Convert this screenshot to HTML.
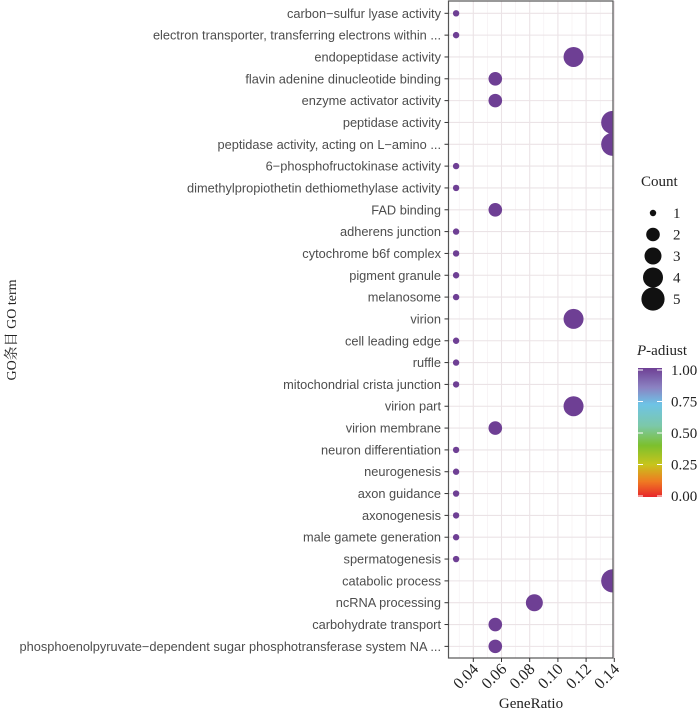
<!DOCTYPE html>
<html><head><meta charset="utf-8"><style>
html,body{margin:0;padding:0;background:#fff;}
svg{display:block;}
</style></head><body>
<svg id="chart" width="700" height="711" xmlns="http://www.w3.org/2000/svg"></svg>
<script>
const terms = ["carbon−sulfur lyase activity","electron transporter, transferring electrons within ...","endopeptidase activity","flavin adenine dinucleotide binding","enzyme activator activity","peptidase activity","peptidase activity, acting on L−amino ...","6−phosphofructokinase activity","dimethylpropiothetin dethiomethylase activity","FAD binding","adherens junction","cytochrome b6f complex","pigment granule","melanosome","virion","cell leading edge","ruffle","mitochondrial crista junction","virion part","virion membrane","neuron differentiation","neurogenesis","axon guidance","axonogenesis","male gamete generation","spermatogenesis","catabolic process","ncRNA processing","carbohydrate transport","phosphoenolpyruvate−dependent sugar phosphotransferase system NA ..."];
const counts = [1,1,4,2,2,5,5,1,1,2,1,1,1,1,4,1,1,1,4,2,1,1,1,1,1,1,5,3,2,2];
const geneRatio = [0.0278,0.0278,0.1111,0.0556,0.0556,0.1389,0.1389,0.0278,0.0278,0.0556,0.0278,0.0278,0.0278,0.0278,0.1111,0.0278,0.0278,0.0278,0.1111,0.0556,0.0278,0.0278,0.0278,0.0278,0.0278,0.0278,0.1389,0.0833,0.0556,0.0556];
const xTicks = [0.04,0.06,0.08,0.10,0.12,0.14];
const xTickLabels = ["0.04","0.06","0.08","0.10","0.12","0.14"];
const sizeLevels = [1,2,3,4,5];
const colorTicks = ["1.00","0.75","0.50","0.25","0.00"];

const NS="http://www.w3.org/2000/svg";
const svg=document.getElementById('chart');
function el(tag,attrs,parent){const e=document.createElementNS(NS,tag);for(const k in attrs)e.setAttribute(k,attrs[k]);(parent||svg).appendChild(e);return e;}
const L=448.5,R=613,T=1,B=658;
const xs=v=>473.3+(v-0.04)*1410;
const ys=i=>13.3+i*21.83;
const rs=c=>[0,3.2,6.8,8.5,10,11.6][c];

const defs=el('defs',{});
const cp=el('clipPath',{id:'pc'},defs);
el('rect',{x:L,y:T,width:R-L,height:B-T},cp);

const panel=el('rect',{x:L,y:T,width:R-L,height:B-T,fill:'#fff'});

for(let v=0.03;v<0.145;v+=0.02){const x=xs(v);if(x>L&&x<R)el('line',{x1:x,x2:x,y1:T,y2:B,stroke:'#f3eef0','stroke-width':0.6});}
for(const v of xTicks){const x=xs(v);const g=el('line',{x1:x,x2:x,y1:T,y2:B,stroke:'#ebe3e6','stroke-width':1.1});}
terms.forEach((t,i)=>{el('line',{x1:L,x2:R,y1:ys(i),y2:ys(i),stroke:'#ebe3e6','stroke-width':1.1});});
const pts=el('g',{'clip-path':'url(#pc)'});
terms.forEach((t,i)=>{
  const c=el('circle',{cx:xs(geneRatio[i]),cy:ys(i),r:rs(counts[i]),fill:'#6e3f94'},pts);
  
  
});
const border=el('rect',{x:L,y:T,width:R-L,height:B-T,fill:'none',stroke:'#555','stroke-width':1.2});

terms.forEach((t,i)=>{
  el('line',{x1:L-4,x2:L,y1:ys(i),y2:ys(i),stroke:'#333','stroke-width':1});
  const tx=el('text',{x:441,y:ys(i)+4.5,'text-anchor':'end','font-family':'Liberation Sans, sans-serif','font-size':'12.8',fill:'#4d4d4d'});
  tx.textContent=t;
  
  
});
xTicks.forEach((v,i)=>{
  const x=xs(v);
  el('line',{x1:x,x2:x,y1:B,y2:B+4,stroke:'#333','stroke-width':1});
  const tx=el('text',{x:x+6,y:B+12,'text-anchor':'end','font-family':'Liberation Serif, serif','font-size':'16',fill:'#222',transform:`rotate(-45 ${x+6} ${B+12})`});
  tx.textContent=xTickLabels[i];
  
  
});
const xt=el('text',{x:531,y:708,'text-anchor':'middle','font-family':'Liberation Serif, serif','font-size':'15',fill:'#222'});
xt.textContent='GeneRatio';
const yt=el('text',{x:16,y:330,'text-anchor':'middle','font-family':'Liberation Serif, Noto Serif CJK SC, serif','font-size':'14',fill:'#222',transform:'rotate(-90 16 330)'});
yt.textContent='GO条目 GO term';
const st=el('text',{x:641,y:186,'font-family':'Liberation Serif, serif','font-size':'15',fill:'#222'});
st.textContent='Count';
sizeLevels.forEach((c,i)=>{
  const y=213+i*21.5;
  const cc=el('circle',{cx:653,cy:y,r:rs(c),fill:'#111'});
  
  const tx=el('text',{x:673,y:y+5,'font-family':'Liberation Serif, serif','font-size':'15',fill:'#222'});
  tx.textContent=String(c);
});
const ct=el('text',{x:637,y:355,'font-family':'Liberation Serif, serif','font-size':'15',fill:'#222'});
ct.innerHTML='<tspan font-style="italic">P</tspan>-adiust';
const lg=el('linearGradient',{id:'pg',x1:0,y1:1,x2:0,y2:0},defs);
[['0','#e8262a'],['0.12','#ef7a22'],['0.25','#c8c41c'],['0.4','#7cc02e'],['0.55','#7cc8a8'],['0.72','#6ec3e6'],['0.85','#8b82c2'],['1','#6e3f94']].forEach(s=>el('stop',{offset:s[0],'stop-color':s[1]},lg));
const bar=el('rect',{x:638,y:368,width:24,height:129,fill:'url(#pg)'});

colorTicks.forEach((t,i)=>{
  const y=370+i*31.5;
  el('line',{x1:638,x2:643,y1:y,y2:y,stroke:'#fff','stroke-width':1});
  el('line',{x1:657,x2:662,y1:y,y2:y,stroke:'#fff','stroke-width':1});
  const tx=el('text',{x:671,y:y+5,'font-family':'Liberation Serif, serif','font-size':'15',fill:'#222'});
  tx.textContent=t;
});
</script>
</body></html>
